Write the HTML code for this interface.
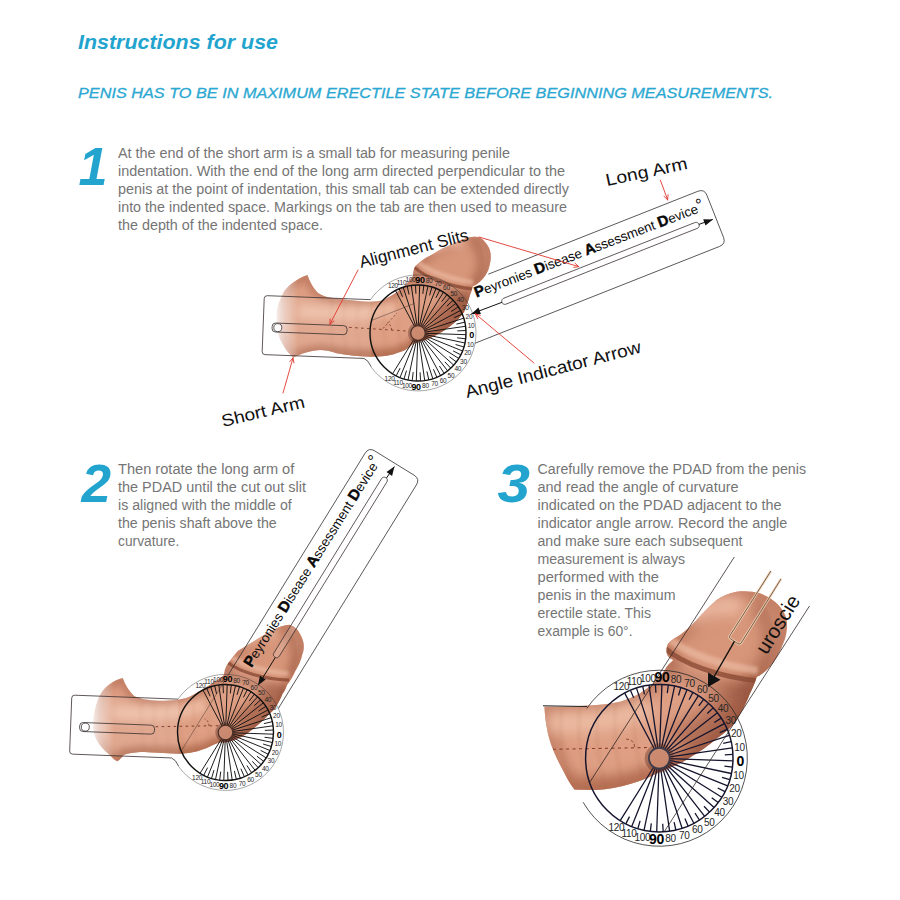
<!DOCTYPE html>
<html><head><meta charset="utf-8"><title>Instructions for use</title>
<style>
html,body{margin:0;padding:0;background:#fff;}
body{width:900px;height:900px;overflow:hidden;font-family:"Liberation Sans",sans-serif;}
svg{display:block;font-family:"Liberation Sans",sans-serif;}
</style></head><body>
<svg width="900" height="900" viewBox="0 0 900 900">
<rect width="900" height="900" fill="#ffffff"/>
<text x="78" y="48.5" font-size="20.5" fill="#23a4cf" font-weight="bold" font-style="italic" textLength="200" lengthAdjust="spacingAndGlyphs" >Instructions for use</text>
<text x="78" y="98" font-size="14.7" fill="#2ba8d2" font-weight="normal" font-style="italic" textLength="695" lengthAdjust="spacingAndGlyphs" stroke="#2ba8d2" stroke-width="0.3">PENIS HAS TO BE IN MAXIMUM ERECTILE STATE BEFORE BEGINNING MEASUREMENTS.</text>
<text x="78.5" y="185.3" font-size="53" fill="#23a4cf" font-weight="bold" font-style="italic" textLength="29" lengthAdjust="spacingAndGlyphs" >1</text>
<text x="81.5" y="501.7" font-size="53.5" fill="#23a4cf" font-weight="bold" font-style="italic" textLength="29.5" lengthAdjust="spacingAndGlyphs" >2</text>
<text x="497.5" y="502.3" font-size="53.5" fill="#23a4cf" font-weight="bold" font-style="italic" textLength="32.5" lengthAdjust="spacingAndGlyphs" >3</text>
<text x="118" y="158" font-size="14" fill="#757575" font-weight="normal" font-style="normal" textLength="392" lengthAdjust="spacingAndGlyphs" >At the end of the short arm is a small tab for measuring penile</text>
<text x="118" y="176" font-size="14" fill="#757575" font-weight="normal" font-style="normal" textLength="447" lengthAdjust="spacingAndGlyphs" >indentation. With the end of the long arm directed perpendicular to the</text>
<text x="118" y="194" font-size="14" fill="#757575" font-weight="normal" font-style="normal" textLength="451" lengthAdjust="spacingAndGlyphs" >penis at the point of indentation, this small tab can be extended directly</text>
<text x="118" y="212" font-size="14" fill="#757575" font-weight="normal" font-style="normal" textLength="449" lengthAdjust="spacingAndGlyphs" >into the indented space. Markings on the tab are then used to measure</text>
<text x="118" y="230" font-size="14" fill="#757575" font-weight="normal" font-style="normal" textLength="205" lengthAdjust="spacingAndGlyphs" >the depth of the indented space.</text>
<text x="118" y="474" font-size="14" fill="#757575" font-weight="normal" font-style="normal" textLength="176.3" lengthAdjust="spacingAndGlyphs" >Then rotate the long arm of</text>
<text x="118" y="492" font-size="14" fill="#757575" font-weight="normal" font-style="normal" textLength="188" lengthAdjust="spacingAndGlyphs" >the PDAD until the cut out slit</text>
<text x="118" y="510" font-size="14" fill="#757575" font-weight="normal" font-style="normal" textLength="173.7" lengthAdjust="spacingAndGlyphs" >is aligned with the middle of</text>
<text x="118" y="528" font-size="14" fill="#757575" font-weight="normal" font-style="normal" textLength="158.7" lengthAdjust="spacingAndGlyphs" >the penis shaft above the</text>
<text x="118" y="546" font-size="14" fill="#757575" font-weight="normal" font-style="normal" textLength="61.3" lengthAdjust="spacingAndGlyphs" >curvature.</text>
<text x="537.5" y="473.5" font-size="14" fill="#757575" font-weight="normal" font-style="normal" textLength="268.5" lengthAdjust="spacingAndGlyphs" >Carefully remove the PDAD from the penis</text>
<text x="537.5" y="491.5" font-size="14" fill="#757575" font-weight="normal" font-style="normal" textLength="201.1" lengthAdjust="spacingAndGlyphs" >and read the angle of curvature</text>
<text x="537.5" y="509.5" font-size="14" fill="#757575" font-weight="normal" font-style="normal" textLength="243.9" lengthAdjust="spacingAndGlyphs" >indicated on the PDAD adjacent to the</text>
<text x="537.5" y="527.5" font-size="14" fill="#757575" font-weight="normal" font-style="normal" textLength="249.8" lengthAdjust="spacingAndGlyphs" >indicator angle arrow. Record the angle</text>
<text x="537.5" y="545.5" font-size="14" fill="#757575" font-weight="normal" font-style="normal" textLength="205.0" lengthAdjust="spacingAndGlyphs" >and make sure each subsequent</text>
<text x="537.5" y="563.5" font-size="14" fill="#757575" font-weight="normal" font-style="normal" textLength="147.5" lengthAdjust="spacingAndGlyphs" >measurement is always</text>
<text x="537.5" y="581.5" font-size="14" fill="#757575" font-weight="normal" font-style="normal" textLength="121.5" lengthAdjust="spacingAndGlyphs" >performed with the</text>
<text x="537.5" y="599.5" font-size="14" fill="#757575" font-weight="normal" font-style="normal" textLength="138.1" lengthAdjust="spacingAndGlyphs" >penis in the maximum</text>
<text x="537.5" y="617.5" font-size="14" fill="#757575" font-weight="normal" font-style="normal" textLength="113.5" lengthAdjust="spacingAndGlyphs" >erectile state. This</text>
<text x="537.5" y="635.5" font-size="14" fill="#757575" font-weight="normal" font-style="normal" textLength="95.0" lengthAdjust="spacingAndGlyphs" >example is 60°.</text>
<defs>
<clipPath id="f1c"><path d="M283,293 C288,285 298,278 307.5,275 C309,280 313,288 318,293 C324,297 332,298 340,299 C352,300.5 362,301.5 370,301.7 C376,301.5 380,301 383.3,300 C389,297 394,294 397,292 C402,288 408,283 413,276 C413,271 414,267 416.7,265 C421,261 425,258 430,255.8 C436,252 441,249 446.7,246.7 C452,244 458,241 463.3,239.2 C467,237.5 471,236.5 475,236.7 C479,237 481.5,238 483.3,240 C486,243 488,245.5 489.2,248.3 C490.5,251.5 491,255 490.8,258.3 C490.5,262 489.5,266.5 488.3,270 C486.5,274 484.5,277 481.7,280 C479,283 476,284.8 472.5,286.5 C472,290 471,293 470,295 C468.5,300 466.5,306 464,312 C462.5,314 461.5,315.5 460,317 C458,319.5 456,321.5 454,323 C451,325.5 448.5,327.5 446,329 C443.5,331 441,332.5 438,334 C435,335.8 432.5,337 430,338 C426.5,339.5 423.5,340.3 420,341 C417.5,342 415,343 413,344 C411,345.5 409.5,347 408,348 C405.5,350 403,351.2 400,352 C396,353.5 391.5,355 386.7,355.8 C380,356.5 375,356.7 370,356.7 C364,356.5 358,356 353.3,355.8 C347,355 341,354 336.7,353.3 C330,351 325,350 320,350 C313,350.5 308,352 303.3,353.3 C299,355 296,356.5 293.3,357.5 C289,354 285,349 282,343 C279,338 278,334 278,330 C277,324 276.5,318 276.7,313 C277.5,307 278.5,303 280,300 Z"/></clipPath>
<filter id="f1b" filterUnits="userSpaceOnUse" x="0" y="0" width="900" height="900"><feGaussianBlur stdDeviation="4.5"/></filter>
<filter id="f1r" filterUnits="userSpaceOnUse" x="0" y="0" width="900" height="900"><feGaussianBlur stdDeviation="1.8"/></filter>
<filter id="f1s" filterUnits="userSpaceOnUse" x="0" y="0" width="900" height="900"><feGaussianBlur stdDeviation="0.7"/></filter>
<linearGradient id="f1g" gradientUnits="userSpaceOnUse" x1="273" y1="0" x2="298" y2="0"><stop offset="0" stop-color="#fff" stop-opacity="0"/><stop offset="0.5" stop-color="#fff" stop-opacity="0.55"/><stop offset="1" stop-color="#fff" stop-opacity="1"/></linearGradient>
<mask id="f1m" maskUnits="userSpaceOnUse" x="0" y="0" width="900" height="900"><rect x="0" y="0" width="900" height="900" fill="url(#f1g)"/></mask>
</defs>
<g mask="url(#f1m)"><g filter="url(#f1s)">
<path d="M283,293 C288,285 298,278 307.5,275 C309,280 313,288 318,293 C324,297 332,298 340,299 C352,300.5 362,301.5 370,301.7 C376,301.5 380,301 383.3,300 C389,297 394,294 397,292 C402,288 408,283 413,276 C413,271 414,267 416.7,265 C421,261 425,258 430,255.8 C436,252 441,249 446.7,246.7 C452,244 458,241 463.3,239.2 C467,237.5 471,236.5 475,236.7 C479,237 481.5,238 483.3,240 C486,243 488,245.5 489.2,248.3 C490.5,251.5 491,255 490.8,258.3 C490.5,262 489.5,266.5 488.3,270 C486.5,274 484.5,277 481.7,280 C479,283 476,284.8 472.5,286.5 C472,290 471,293 470,295 C468.5,300 466.5,306 464,312 C462.5,314 461.5,315.5 460,317 C458,319.5 456,321.5 454,323 C451,325.5 448.5,327.5 446,329 C443.5,331 441,332.5 438,334 C435,335.8 432.5,337 430,338 C426.5,339.5 423.5,340.3 420,341 C417.5,342 415,343 413,344 C411,345.5 409.5,347 408,348 C405.5,350 403,351.2 400,352 C396,353.5 391.5,355 386.7,355.8 C380,356.5 375,356.7 370,356.7 C364,356.5 358,356 353.3,355.8 C347,355 341,354 336.7,353.3 C330,351 325,350 320,350 C313,350.5 308,352 303.3,353.3 C299,355 296,356.5 293.3,357.5 C289,354 285,349 282,343 C279,338 278,334 278,330 C277,324 276.5,318 276.7,313 C277.5,307 278.5,303 280,300 Z" fill="#de9f84"/>
<g clip-path="url(#f1c)">
<path d="M283,293 C288,285 298,278 307.5,275 C309,280 313,288 318,293 C324,297 332,298 340,299 C352,300.5 362,301.5 370,301.7 C376,301.5 380,301 383.3,300 C389,297 394,294 397,292 C402,288 408,283 413,276 C413,271 414,267 416.7,265 C421,261 425,258 430,255.8 C436,252 441,249 446.7,246.7 C452,244 458,241 463.3,239.2 C467,237.5 471,236.5 475,236.7 C479,237 481.5,238 483.3,240 C486,243 488,245.5 489.2,248.3 C490.5,251.5 491,255 490.8,258.3 C490.5,262 489.5,266.5 488.3,270 C486.5,274 484.5,277 481.7,280 C479,283 476,284.8 472.5,286.5 C472,290 471,293 470,295 C468.5,300 466.5,306 464,312 C462.5,314 461.5,315.5 460,317 C458,319.5 456,321.5 454,323 C451,325.5 448.5,327.5 446,329 C443.5,331 441,332.5 438,334 C435,335.8 432.5,337 430,338 C426.5,339.5 423.5,340.3 420,341 C417.5,342 415,343 413,344 C411,345.5 409.5,347 408,348 C405.5,350 403,351.2 400,352 C396,353.5 391.5,355 386.7,355.8 C380,356.5 375,356.7 370,356.7 C364,356.5 358,356 353.3,355.8 C347,355 341,354 336.7,353.3 C330,351 325,350 320,350 C313,350.5 308,352 303.3,353.3 C299,355 296,356.5 293.3,357.5 C289,354 285,349 282,343 C279,338 278,334 278,330 C277,324 276.5,318 276.7,313 C277.5,307 278.5,303 280,300 Z" fill="none" stroke="#b06a4e" stroke-opacity="0.7" stroke-width="9" filter="url(#f1b)"/>
<path d="M300,357 C330,351 360,361 398,355 C426,346 452,330 467,300" fill="none" stroke="#b06a4e" stroke-width="13" stroke-opacity="0.8" filter="url(#f1b)"/>
<path d="M414,346 C440,340 458,322 468,298" fill="none" stroke="#8a4a35" stroke-width="14" stroke-opacity="0.6" filter="url(#f1b)"/>
<path d="M424,326 C440,318 450,308 458,294" fill="none" stroke="#b06a4e" stroke-width="18" stroke-opacity="0.55" filter="url(#f1b)"/>
<path d="M432,322 C446,314 455,304 462,290" fill="none" stroke="#8a4a35" stroke-width="12" stroke-opacity="0.4" filter="url(#f1b)"/>
<path d="M298,311 C330,313 370,317 395,307" fill="none" stroke="#efbfa7" stroke-width="14" stroke-opacity="0.85" filter="url(#f1b)"/>
<path d="M332,300 C330,318 331,338 334,353" fill="none" stroke="#8a4a35" stroke-opacity="0.13" stroke-width="1.2" filter="url(#f1r)"/><path d="M345,300 C343,320 344,340 347,355" fill="none" stroke="#8a4a35" stroke-opacity="0.13" stroke-width="1.2" filter="url(#f1r)"/><path d="M358,301 C356,320 357,340 360,356" fill="none" stroke="#8a4a35" stroke-opacity="0.13" stroke-width="1.2" filter="url(#f1r)"/><path d="M371,302 C369,320 370,340 373,356" fill="none" stroke="#8a4a35" stroke-opacity="0.13" stroke-width="1.2" filter="url(#f1r)"/><path d="M384,300 C383,320 384,340 387,356" fill="none" stroke="#8a4a35" stroke-opacity="0.13" stroke-width="1.2" filter="url(#f1r)"/><path d="M397,293 C397,315 399,338 402,354" fill="none" stroke="#8a4a35" stroke-opacity="0.13" stroke-width="1.2" filter="url(#f1r)"/>
<path d="M413.5,265.9 C418.1,246.5 438.8,228.1 462.9,231.7 C486.3,237.6 488.4,263.6 475.3,287.8 C454.0,287.0 431.6,278.3 413.5,265.9Z" fill="#c78262" fill-opacity="0.30"/>
<path d="M472.4,241.2 C485.5,253.2 483.3,271.4 473.9,284.1" fill="none" stroke="#8a4a35" stroke-width="9.0" stroke-opacity="0.45" filter="url(#f1b)"/>
<path d="M430.1,248.6 C443.0,240.3 454.2,238.9 463.9,242.2" fill="none" stroke="#efbfa7" stroke-width="12.0" stroke-opacity="0.9" filter="url(#f1b)"/>
<path d="M417.9,262.3 C427.8,270.7 450.2,279.4 473.2,282.6" fill="none" stroke="#efbfa7" stroke-width="5.0" stroke-opacity="0.6" filter="url(#f1r)"/>
<path d="M414.3,267.4 C425.5,277.5 447.9,286.2 473.6,289.1" fill="none" stroke="#8a4a35" stroke-width="3.2" stroke-opacity="0.8" filter="url(#f1s)"/>
<path d="M412.6,274.5 C422.8,285.5 445.3,294.2 470.0,296.1" fill="none" stroke="#8a4a35" stroke-width="7.0" stroke-opacity="0.4" filter="url(#f1b)"/>
</g></g></g>
<g>
<g transform="translate(418,333) rotate(2.2)"><path d="M-48.7,-31.5L-152,-31.5Q-155,-31.5 -155,-28.5L-155,24.5Q-155,27.5 -152,27.5L-53,27.5Q-48.5,29 -45.5,35.5" fill="rgba(255,255,255,0.10)" stroke="#3a3030" stroke-width="0.8"/><rect x="-146" y="-4.5" width="75" height="9" rx="3.5" fill="none" stroke="#3a3030" stroke-width="0.8"/><circle cx="-140.3" cy="0" r="4" fill="#fff" fill-opacity="0.85" stroke="#3a3030" stroke-width="0.8"/><line x1="-69" y1="-3" x2="-9" y2="-1.5" stroke="#7a3526" stroke-width="0.9" stroke-dasharray="2.5 3.5"/></g>
<path d="M370.5,299.6A58,58 0 1 1 371.0,366.9" fill="none" stroke="#222" stroke-opacity="0.6" stroke-width="0.66"/>
<path d="M414.1,339.2L392.6,373.7M415.3,339.8L400.0,377.5M416.5,340.1L408.0,380.0M417.7,340.3L416.3,381.0M419.0,340.2L424.7,380.5M420.3,339.9L432.8,378.7M421.4,339.4L440.5,375.4M422.5,338.8L447.6,370.8M423.4,337.9L453.7,365.1M424.2,336.9L458.7,358.4M424.8,335.7L462.5,351.0M425.1,334.5L465.0,343.0M425.3,333.3L466.0,334.7M425.2,332.0L465.5,326.3M424.9,330.7L463.7,318.2M424.4,329.6L460.4,310.5M423.8,328.5L455.8,303.4M422.9,327.6L450.1,297.3M421.9,326.8L443.4,292.3M420.7,326.2L436.0,288.5M419.5,325.9L428.0,286.0M418.3,325.7L419.7,285.0M417.0,325.8L411.3,285.5M415.7,326.1L403.2,287.3M414.6,326.6L395.5,290.6M400.1,368.1L396.2,375.8M406.5,370.6L404.0,378.9M413.2,372.1L412.2,380.6M420.1,372.3L420.5,380.9M426.9,371.4L428.8,379.8M433.4,369.2L436.8,377.2M439.4,366.0L444.1,373.3M444.8,361.8L450.7,368.1M449.4,356.7L456.3,361.9M453.1,350.9L460.8,354.8M455.6,344.5L463.9,347.0M457.1,337.8L465.6,338.8M457.3,330.9L465.9,330.5M456.4,324.1L464.8,322.2M454.2,317.6L462.2,314.2M451.0,311.6L458.3,306.9M446.8,306.2L453.1,300.3M441.7,301.6L446.9,294.7M435.9,297.9L439.8,290.2M429.5,295.4L432.0,287.1M422.8,293.9L423.8,285.4M415.9,293.7L415.5,285.1M409.1,294.6L407.2,286.2M402.6,296.8L399.2,288.8" stroke="#111" stroke-width="0.95" fill="none"/>
<circle cx="418" cy="333" r="48" fill="none" stroke="#111" stroke-width="1.42"/>
<circle cx="418" cy="333" r="10.2" fill="#5a2e22" fill-opacity="0.38"/>
<circle cx="418" cy="333" r="7.3" fill="#cf8e72" fill-opacity="0.9" stroke="#4a3028" stroke-width="1.23"/>
<text x="389.6" y="380.7" font-size="6.5" font-weight="normal" fill="#262626" text-anchor="middle" letter-spacing="-0.3">120</text>
<text x="398.0" y="384.9" font-size="6.5" font-weight="normal" fill="#262626" text-anchor="middle" letter-spacing="-0.3">110</text>
<text x="406.9" y="387.7" font-size="6.5" font-weight="normal" fill="#262626" text-anchor="middle" letter-spacing="-0.3">100</text>
<text x="416.1" y="389.7" font-size="9" font-weight="bold" fill="#000" text-anchor="middle" letter-spacing="-0.3">90</text>
<text x="425.4" y="388.3" font-size="6.5" font-weight="normal" fill="#262626" text-anchor="middle" letter-spacing="-0.3">80</text>
<text x="434.5" y="386.2" font-size="6.5" font-weight="normal" fill="#262626" text-anchor="middle" letter-spacing="-0.3">70</text>
<text x="443.1" y="382.6" font-size="6.5" font-weight="normal" fill="#262626" text-anchor="middle" letter-spacing="-0.3">60</text>
<text x="450.9" y="377.5" font-size="6.5" font-weight="normal" fill="#262626" text-anchor="middle" letter-spacing="-0.3">50</text>
<text x="457.8" y="371.1" font-size="6.5" font-weight="normal" fill="#262626" text-anchor="middle" letter-spacing="-0.3">40</text>
<text x="463.4" y="363.7" font-size="6.5" font-weight="normal" fill="#262626" text-anchor="middle" letter-spacing="-0.3">30</text>
<text x="467.6" y="355.4" font-size="6.5" font-weight="normal" fill="#262626" text-anchor="middle" letter-spacing="-0.3">20</text>
<text x="470.3" y="346.5" font-size="6.5" font-weight="normal" fill="#262626" text-anchor="middle" letter-spacing="-0.3">10</text>
<text x="471.5" y="338.1" font-size="9" font-weight="bold" fill="#000" text-anchor="middle" letter-spacing="-0.3">0</text>
<text x="471.0" y="327.9" font-size="6.5" font-weight="normal" fill="#262626" text-anchor="middle" letter-spacing="-0.3">10</text>
<text x="468.9" y="318.8" font-size="6.5" font-weight="normal" fill="#262626" text-anchor="middle" letter-spacing="-0.3">20</text>
<text x="465.2" y="310.2" font-size="6.5" font-weight="normal" fill="#262626" text-anchor="middle" letter-spacing="-0.3">30</text>
<text x="460.2" y="302.4" font-size="6.5" font-weight="normal" fill="#262626" text-anchor="middle" letter-spacing="-0.3">40</text>
<text x="453.8" y="295.6" font-size="6.5" font-weight="normal" fill="#262626" text-anchor="middle" letter-spacing="-0.3">50</text>
<text x="446.4" y="290.0" font-size="6.5" font-weight="normal" fill="#262626" text-anchor="middle" letter-spacing="-0.3">60</text>
<text x="438.0" y="285.7" font-size="6.5" font-weight="normal" fill="#262626" text-anchor="middle" letter-spacing="-0.3">70</text>
<text x="429.1" y="283.0" font-size="6.5" font-weight="normal" fill="#262626" text-anchor="middle" letter-spacing="-0.3">80</text>
<text x="419.9" y="282.8" font-size="9" font-weight="bold" fill="#000" text-anchor="middle" letter-spacing="-0.3">90</text>
<text x="410.6" y="282.4" font-size="6.5" font-weight="normal" fill="#262626" text-anchor="middle" letter-spacing="-0.3">100</text>
<text x="401.5" y="284.5" font-size="6.5" font-weight="normal" fill="#262626" text-anchor="middle" letter-spacing="-0.3">110</text>
<text x="392.9" y="288.1" font-size="6.5" font-weight="normal" fill="#262626" text-anchor="middle" letter-spacing="-0.3">120</text>
<path d="M488.3,274.2L697.8,191.3Q704.3,188.7 706.9,195.2L723.5,237.3Q726.1,243.8 719.6,246.4L475.1,343.2" fill="none" stroke="#2e2e2e" stroke-width="0.8"/><path d="M371.7,320.4L414.8,303.3" fill="none" stroke="#3a2a24" stroke-opacity="0.7" stroke-width="0.64"/>
<path d="M503.8,298.2L694.8,222.6C698.8,221.0 701.1,226.9 697.2,228.4L506.1,304.1C502.1,305.7 499.8,299.8 503.8,298.2Z" fill="#fff" fill-opacity="0.15" stroke="#3a3030" stroke-width="0.8"/>
<path d="M471.3,313.9L502.0,302.3M698.9,224.4L712.8,219.4" stroke="#111" stroke-width="1"/>
<path d="M471.3,313.9L478.5,307.6L480.9,313.9Z" fill="#111"/>
<path d="M712.8,219.4L705.5,225.6L703.2,219.2Z" fill="#111"/>
<text transform="translate(476.5,297.5) rotate(-20.9)" font-size="13.4" font-weight="normal" fill="#0a0a0a" textLength="245" lengthAdjust="spacingAndGlyphs" ><tspan font-weight="bold" font-size="15.0" stroke="#000" stroke-width="0.45">P</tspan>eyronies <tspan font-weight="bold" font-size="15.0" stroke="#000" stroke-width="0.45">D</tspan>isease <tspan font-weight="bold" font-size="15.0" stroke="#000" stroke-width="0.45">A</tspan>ssessment <tspan font-weight="bold" font-size="15.0" stroke="#000" stroke-width="0.45">D</tspan>evice<tspan font-size="16.8" dy="-1.6">°</tspan></text>
<path d="M391.5,330 C391.5,326.5 390,324 387,322.8 M383,328.5 L397,313" stroke="#7a3526" stroke-width="0.8" stroke-dasharray="2 2" fill="none"/>
</g>
<text transform="translate(607.0,186.0) rotate(-12)" font-size="17" font-weight="normal" fill="#111" textLength="83" lengthAdjust="spacingAndGlyphs" >Long Arm</text>
<text transform="translate(361.0,268.0) rotate(-14.4)" font-size="17" font-weight="normal" fill="#111" textLength="112" lengthAdjust="spacingAndGlyphs" >Alignment Slits</text>
<text transform="translate(467.0,398.0) rotate(-14.6)" font-size="17.5" font-weight="normal" fill="#111" textLength="181" lengthAdjust="spacingAndGlyphs" >Angle Indicator Arrow</text>
<text transform="translate(223.0,427.0) rotate(-13.5)" font-size="17" font-weight="normal" fill="#111" textLength="85" lengthAdjust="spacingAndGlyphs" >Short Arm</text>
<path d="M660.4,180.2L667.6,199.8M667.6,199.8L668.1,194.8M667.6,199.8L664.0,196.3" stroke="#e2352d" stroke-width="0.9" fill="none" stroke-linecap="round"/>
<path d="M479.0,237.0L578.7,266.6M578.7,266.6L575.0,263.2M578.7,266.6L573.8,267.4" stroke="#e2352d" stroke-width="0.9" fill="none" stroke-linecap="round"/>
<path d="M358.0,270.0L330.0,324.0M330.0,324.0L334.0,321.0M330.0,324.0L330.1,319.0" stroke="#e2352d" stroke-width="0.9" fill="none" stroke-linecap="round"/>
<path d="M534.0,363.0L475.5,314.0M475.5,314.0L477.6,318.6M475.5,314.0L480.3,315.2" stroke="#e2352d" stroke-width="0.9" fill="none" stroke-linecap="round"/>
<path d="M283.0,393.0L293.0,358.0M293.0,358.0L289.7,361.7M293.0,358.0L293.9,362.9" stroke="#e2352d" stroke-width="0.9" fill="none" stroke-linecap="round"/>
<defs>
<clipPath id="f2c"><path d="M100,695 C105,686 114,680 122.7,678 C125,685 129,691 134,696 C142,700 155,701 165,700.8 L177,700 C184,699 189,697 193.3,694.7 C199,691.5 204,688.5 209.3,685.3 C215,681.5 220,678.5 224,675 C224.5,669 227,664 231,659.6 C234,655.5 236,653 238.2,650.7 C249,644 261,637 272.2,630.6 C278,627 284,625 289.5,624.8 C295,626 299.5,631 302.5,639.3 C304.5,645 304,650 302.5,653.7 C301,660 298.5,666 295.3,671 C293,676 290.5,681 287,685 C285.5,689 284,692 282.7,693.3 C280.5,699 277.5,704.5 274.4,709 C273,710.5 271.5,712 270,713.3 C267.5,716 265,718.5 262.2,721 C259.5,723.5 257,725.8 254.4,727.8 C251.5,730.3 248.5,732.5 245.6,734.4 C242.5,736.3 239.5,737.8 236.7,739 C233,740.5 230,741.5 226.7,742 C224,742.2 221.5,742.3 219,742.5 C216.5,743.3 214,744.5 212,745.6 C208.5,747.5 205,749 201,750 C197,751.3 193.5,752.3 190,752.8 C186,753.5 182,753.8 177.8,753.8 C165,753 150,752.3 140,752 C134,752.5 128,753.5 124,754.7 C121.5,757.5 119.5,760 117.3,761.3 C114.5,760 112.5,758 110.7,756 C106.5,752.5 103,749 100,745.3 C96,740 94,735 93.3,729.3 C93,723 93.5,716 94.7,710.7 C96,704.5 98,699 100,695Z"/></clipPath>
<filter id="f2b" filterUnits="userSpaceOnUse" x="0" y="0" width="900" height="900"><feGaussianBlur stdDeviation="4.5"/></filter>
<filter id="f2r" filterUnits="userSpaceOnUse" x="0" y="0" width="900" height="900"><feGaussianBlur stdDeviation="1.8"/></filter>
<filter id="f2s" filterUnits="userSpaceOnUse" x="0" y="0" width="900" height="900"><feGaussianBlur stdDeviation="0.7"/></filter>
<linearGradient id="f2g" gradientUnits="userSpaceOnUse" x1="89" y1="0" x2="114" y2="0"><stop offset="0" stop-color="#fff" stop-opacity="0"/><stop offset="0.5" stop-color="#fff" stop-opacity="0.55"/><stop offset="1" stop-color="#fff" stop-opacity="1"/></linearGradient>
<mask id="f2m" maskUnits="userSpaceOnUse" x="0" y="0" width="900" height="900"><rect x="0" y="0" width="900" height="900" fill="url(#f2g)"/></mask>
</defs>
<g mask="url(#f2m)"><g filter="url(#f2s)">
<path d="M100,695 C105,686 114,680 122.7,678 C125,685 129,691 134,696 C142,700 155,701 165,700.8 L177,700 C184,699 189,697 193.3,694.7 C199,691.5 204,688.5 209.3,685.3 C215,681.5 220,678.5 224,675 C224.5,669 227,664 231,659.6 C234,655.5 236,653 238.2,650.7 C249,644 261,637 272.2,630.6 C278,627 284,625 289.5,624.8 C295,626 299.5,631 302.5,639.3 C304.5,645 304,650 302.5,653.7 C301,660 298.5,666 295.3,671 C293,676 290.5,681 287,685 C285.5,689 284,692 282.7,693.3 C280.5,699 277.5,704.5 274.4,709 C273,710.5 271.5,712 270,713.3 C267.5,716 265,718.5 262.2,721 C259.5,723.5 257,725.8 254.4,727.8 C251.5,730.3 248.5,732.5 245.6,734.4 C242.5,736.3 239.5,737.8 236.7,739 C233,740.5 230,741.5 226.7,742 C224,742.2 221.5,742.3 219,742.5 C216.5,743.3 214,744.5 212,745.6 C208.5,747.5 205,749 201,750 C197,751.3 193.5,752.3 190,752.8 C186,753.5 182,753.8 177.8,753.8 C165,753 150,752.3 140,752 C134,752.5 128,753.5 124,754.7 C121.5,757.5 119.5,760 117.3,761.3 C114.5,760 112.5,758 110.7,756 C106.5,752.5 103,749 100,745.3 C96,740 94,735 93.3,729.3 C93,723 93.5,716 94.7,710.7 C96,704.5 98,699 100,695Z" fill="#de9f84"/>
<g clip-path="url(#f2c)">
<path d="M100,695 C105,686 114,680 122.7,678 C125,685 129,691 134,696 C142,700 155,701 165,700.8 L177,700 C184,699 189,697 193.3,694.7 C199,691.5 204,688.5 209.3,685.3 C215,681.5 220,678.5 224,675 C224.5,669 227,664 231,659.6 C234,655.5 236,653 238.2,650.7 C249,644 261,637 272.2,630.6 C278,627 284,625 289.5,624.8 C295,626 299.5,631 302.5,639.3 C304.5,645 304,650 302.5,653.7 C301,660 298.5,666 295.3,671 C293,676 290.5,681 287,685 C285.5,689 284,692 282.7,693.3 C280.5,699 277.5,704.5 274.4,709 C273,710.5 271.5,712 270,713.3 C267.5,716 265,718.5 262.2,721 C259.5,723.5 257,725.8 254.4,727.8 C251.5,730.3 248.5,732.5 245.6,734.4 C242.5,736.3 239.5,737.8 236.7,739 C233,740.5 230,741.5 226.7,742 C224,742.2 221.5,742.3 219,742.5 C216.5,743.3 214,744.5 212,745.6 C208.5,747.5 205,749 201,750 C197,751.3 193.5,752.3 190,752.8 C186,753.5 182,753.8 177.8,753.8 C165,753 150,752.3 140,752 C134,752.5 128,753.5 124,754.7 C121.5,757.5 119.5,760 117.3,761.3 C114.5,760 112.5,758 110.7,756 C106.5,752.5 103,749 100,745.3 C96,740 94,735 93.3,729.3 C93,723 93.5,716 94.7,710.7 C96,704.5 98,699 100,695Z" fill="none" stroke="#b06a4e" stroke-opacity="0.7" stroke-width="9" filter="url(#f2b)"/>
<path d="M118,757 C150,751 185,760 212,748 C245,742 276,716 289,688" fill="none" stroke="#b06a4e" stroke-width="13" stroke-opacity="0.8" filter="url(#f2b)"/>
<path d="M222,745 C256,736 278,716 288,690" fill="none" stroke="#8a4a35" stroke-width="14" stroke-opacity="0.6" filter="url(#f2b)"/>
<path d="M232,724 C250,716 262,704 272,690" fill="none" stroke="#b06a4e" stroke-width="18" stroke-opacity="0.55" filter="url(#f2b)"/>
<path d="M240,722 C256,712 268,700 277,686" fill="none" stroke="#8a4a35" stroke-width="12" stroke-opacity="0.4" filter="url(#f2b)"/>
<path d="M112,712 C140,714 180,716 205,704" fill="none" stroke="#efbfa7" stroke-width="14" stroke-opacity="0.85" filter="url(#f2b)"/>
<path d="M142,700 C140,718 141,736 144,752" fill="none" stroke="#8a4a35" stroke-opacity="0.13" stroke-width="1.2" filter="url(#f2r)"/><path d="M155,701 C153,718 154,738 157,753" fill="none" stroke="#8a4a35" stroke-opacity="0.13" stroke-width="1.2" filter="url(#f2r)"/><path d="M168,701 C166,720 167,738 170,754" fill="none" stroke="#8a4a35" stroke-opacity="0.13" stroke-width="1.2" filter="url(#f2r)"/><path d="M181,700 C179,720 180,738 183,754" fill="none" stroke="#8a4a35" stroke-opacity="0.13" stroke-width="1.2" filter="url(#f2r)"/><path d="M194,695 C193,716 194,738 197,754" fill="none" stroke="#8a4a35" stroke-opacity="0.13" stroke-width="1.2" filter="url(#f2r)"/><path d="M207,687 C207,710 209,734 212,751" fill="none" stroke="#8a4a35" stroke-opacity="0.13" stroke-width="1.2" filter="url(#f2r)"/>
<path d="M226.9,661.1 C230.0,641.1 249.6,621.0 274.2,622.9 C298.3,627.1 302.3,653.2 290.9,678.6 C269.3,679.4 246.0,672.2 226.9,661.1Z" fill="#c78262" fill-opacity="0.30"/>
<path d="M284.6,631.8 C298.7,642.9 297.7,661.5 289.2,675.0" fill="none" stroke="#8a4a35" stroke-width="9.0" stroke-opacity="0.45" filter="url(#f2b)"/>
<path d="M242.3,642.4 C254.7,633.0 265.9,630.8 276.0,633.4" fill="none" stroke="#efbfa7" stroke-width="12.0" stroke-opacity="0.9" filter="url(#f2b)"/>
<path d="M231.0,657.1 C241.6,664.8 264.9,672.0 288.4,673.6" fill="none" stroke="#efbfa7" stroke-width="5.0" stroke-opacity="0.6" filter="url(#f2r)"/>
<path d="M227.7,662.5 C239.8,671.9 263.1,679.1 289.2,680.1" fill="none" stroke="#8a4a35" stroke-width="3.2" stroke-opacity="0.8" filter="url(#f2s)"/>
<path d="M226.5,669.8 C237.7,680.2 261.0,687.3 286.1,687.4" fill="none" stroke="#8a4a35" stroke-width="7.0" stroke-opacity="0.4" filter="url(#f2b)"/>
</g></g></g>
<g>
<g transform="translate(225.5,732.5) rotate(2.2)"><path d="M-48.7,-31.5L-152,-31.5Q-155,-31.5 -155,-28.5L-155,24.5Q-155,27.5 -152,27.5L-53,27.5Q-48.5,29 -45.5,35.5" fill="rgba(255,255,255,0.10)" stroke="#3a3030" stroke-width="0.8"/><rect x="-146" y="-4.5" width="75" height="9" rx="3.5" fill="none" stroke="#3a3030" stroke-width="0.8"/><circle cx="-140.3" cy="0" r="4" fill="#fff" fill-opacity="0.85" stroke="#3a3030" stroke-width="0.8"/><line x1="-70" y1="-3.1" x2="-8" y2="-6.5" stroke="#7a3526" stroke-width="0.9" stroke-dasharray="2.5 3.5"/></g>
<path d="M178.0,699.1A58,58 0 1 1 178.5,766.4" fill="none" stroke="#222" stroke-opacity="0.6" stroke-width="0.66"/>
<path d="M221.6,738.7L200.1,773.2M222.8,739.3L207.5,777.0M224.0,739.6L215.5,779.5M225.2,739.8L223.8,780.5M226.5,739.7L232.2,780.0M227.8,739.4L240.3,778.2M228.9,738.9L248.0,774.9M230.0,738.3L255.1,770.3M230.9,737.4L261.2,764.6M231.7,736.4L266.2,757.9M232.3,735.2L270.0,750.5M232.6,734.0L272.5,742.5M232.8,732.8L273.5,734.2M232.7,731.5L273.0,725.8M232.4,730.2L271.2,717.7M231.9,729.1L267.9,710.0M231.3,728.0L263.3,702.9M230.4,727.1L257.6,696.8M229.4,726.3L250.9,691.8M228.2,725.7L243.5,688.0M227.0,725.4L235.5,685.5M225.8,725.2L227.2,684.5M224.5,725.3L218.8,685.0M223.2,725.6L210.7,686.8M222.1,726.1L203.0,690.1M207.6,767.6L203.7,775.3M214.0,770.1L211.5,778.4M220.7,771.6L219.7,780.1M227.6,771.8L228.0,780.4M234.4,770.9L236.3,779.3M240.9,768.7L244.3,776.7M246.9,765.5L251.6,772.8M252.3,761.3L258.2,767.6M256.9,756.2L263.8,761.4M260.6,750.4L268.3,754.3M263.1,744.0L271.4,746.5M264.6,737.3L273.1,738.3M264.8,730.4L273.4,730.0M263.9,723.6L272.3,721.7M261.7,717.1L269.7,713.7M258.5,711.1L265.8,706.4M254.3,705.7L260.6,699.8M249.2,701.1L254.4,694.2M243.4,697.4L247.3,689.7M237.0,694.9L239.5,686.6M230.3,693.4L231.3,684.9M223.4,693.2L223.0,684.6M216.6,694.1L214.7,685.7M210.1,696.3L206.7,688.3" stroke="#111" stroke-width="0.95" fill="none"/>
<circle cx="225.5" cy="732.5" r="48" fill="none" stroke="#111" stroke-width="1.42"/>
<circle cx="225.5" cy="732.5" r="10.2" fill="#5a2e22" fill-opacity="0.38"/>
<circle cx="225.5" cy="732.5" r="7.3" fill="#cf8e72" fill-opacity="0.9" stroke="#4a3028" stroke-width="1.23"/>
<text x="197.1" y="780.2" font-size="6.5" font-weight="normal" fill="#262626" text-anchor="middle" letter-spacing="-0.3">120</text>
<text x="205.5" y="784.4" font-size="6.5" font-weight="normal" fill="#262626" text-anchor="middle" letter-spacing="-0.3">110</text>
<text x="214.4" y="787.2" font-size="6.5" font-weight="normal" fill="#262626" text-anchor="middle" letter-spacing="-0.3">100</text>
<text x="223.6" y="789.2" font-size="9" font-weight="bold" fill="#000" text-anchor="middle" letter-spacing="-0.3">90</text>
<text x="232.9" y="787.8" font-size="6.5" font-weight="normal" fill="#262626" text-anchor="middle" letter-spacing="-0.3">80</text>
<text x="242.0" y="785.7" font-size="6.5" font-weight="normal" fill="#262626" text-anchor="middle" letter-spacing="-0.3">70</text>
<text x="250.6" y="782.1" font-size="6.5" font-weight="normal" fill="#262626" text-anchor="middle" letter-spacing="-0.3">60</text>
<text x="258.4" y="777.0" font-size="6.5" font-weight="normal" fill="#262626" text-anchor="middle" letter-spacing="-0.3">50</text>
<text x="265.3" y="770.6" font-size="6.5" font-weight="normal" fill="#262626" text-anchor="middle" letter-spacing="-0.3">40</text>
<text x="270.9" y="763.2" font-size="6.5" font-weight="normal" fill="#262626" text-anchor="middle" letter-spacing="-0.3">30</text>
<text x="275.1" y="754.9" font-size="6.5" font-weight="normal" fill="#262626" text-anchor="middle" letter-spacing="-0.3">20</text>
<text x="277.8" y="746.0" font-size="6.5" font-weight="normal" fill="#262626" text-anchor="middle" letter-spacing="-0.3">10</text>
<text x="279.0" y="737.6" font-size="9" font-weight="bold" fill="#000" text-anchor="middle" letter-spacing="-0.3">0</text>
<text x="278.5" y="727.4" font-size="6.5" font-weight="normal" fill="#262626" text-anchor="middle" letter-spacing="-0.3">10</text>
<text x="276.4" y="718.3" font-size="6.5" font-weight="normal" fill="#262626" text-anchor="middle" letter-spacing="-0.3">20</text>
<text x="272.7" y="709.7" font-size="6.5" font-weight="normal" fill="#262626" text-anchor="middle" letter-spacing="-0.3">30</text>
<text x="267.7" y="701.9" font-size="6.5" font-weight="normal" fill="#262626" text-anchor="middle" letter-spacing="-0.3">40</text>
<text x="261.3" y="695.1" font-size="6.5" font-weight="normal" fill="#262626" text-anchor="middle" letter-spacing="-0.3">50</text>
<text x="253.9" y="689.5" font-size="6.5" font-weight="normal" fill="#262626" text-anchor="middle" letter-spacing="-0.3">60</text>
<text x="245.5" y="685.2" font-size="6.5" font-weight="normal" fill="#262626" text-anchor="middle" letter-spacing="-0.3">70</text>
<text x="236.6" y="682.5" font-size="6.5" font-weight="normal" fill="#262626" text-anchor="middle" letter-spacing="-0.3">80</text>
<text x="227.4" y="682.3" font-size="9" font-weight="bold" fill="#000" text-anchor="middle" letter-spacing="-0.3">90</text>
<text x="218.1" y="681.9" font-size="6.5" font-weight="normal" fill="#262626" text-anchor="middle" letter-spacing="-0.3">100</text>
<text x="209.0" y="684.0" font-size="6.5" font-weight="normal" fill="#262626" text-anchor="middle" letter-spacing="-0.3">110</text>
<text x="200.4" y="687.6" font-size="6.5" font-weight="normal" fill="#262626" text-anchor="middle" letter-spacing="-0.3">120</text>
<path d="M228.4,674.6L365.1,453.2Q368.8,447.2 374.7,450.9L414.1,475.2Q420.1,478.9 416.4,484.9L278.3,708.5" fill="none" stroke="#2e2e2e" stroke-width="0.8"/><path d="M181.2,751.0L228.4,674.6" fill="none" stroke="#3a2a24" stroke-opacity="0.7" stroke-width="0.64"/>
<path d="M273.9,652.9L381.5,478.7C383.7,475.1 389.1,478.4 386.8,482.1L279.3,656.2C277.0,659.8 271.7,656.5 273.9,652.9Z" fill="#fff" fill-opacity="0.15" stroke="#3a3030" stroke-width="0.8"/>
<path d="M258.1,685.3L275.3,657.5M386.4,478.1L394.4,466.6" stroke="#111" stroke-width="1"/>
<path d="M258.1,685.3L259.9,675.8L265.7,679.4Z" fill="#111"/>
<path d="M394.4,466.6L392.1,475.9L386.5,472.0Z" fill="#111"/>
<text transform="translate(251.5,668.0) rotate(-57.9)" font-size="13.4" font-weight="normal" fill="#0a0a0a" textLength="245" lengthAdjust="spacingAndGlyphs" ><tspan font-weight="bold" font-size="15.0" stroke="#000" stroke-width="0.45">P</tspan>eyronies <tspan font-weight="bold" font-size="15.0" stroke="#000" stroke-width="0.45">D</tspan>isease <tspan font-weight="bold" font-size="15.0" stroke="#000" stroke-width="0.45">A</tspan>ssessment <tspan font-weight="bold" font-size="15.0" stroke="#000" stroke-width="0.45">D</tspan>evice<tspan font-size="16.8" dy="-1.6">°</tspan></text>
<path d="M209,726 C209,722.5 207.5,720 204.5,718.8" stroke="#7a3526" stroke-width="0.8" stroke-dasharray="2 2" fill="none"/>
</g>
<defs>
<clipPath id="f3c"><path d="M544.4,706.7 L563.3,706.7 C575,706.3 586,705.8 596.7,705 C605,704.3 613,703.2 620,701.7 C627,699.5 634,696.8 640,693.3 C646,689.5 652,685 656.7,680 C661,675.5 664.5,671 666.7,666.7 C669,664 671.5,662 673.3,660 C669.5,658.5 667.2,656 666.7,653.3 C666.2,649.5 666.8,646 668.3,643.3 C671.5,640 675.5,637.5 680,635 C686,630.5 691.5,625.5 696.7,620 C703,613 709.5,606 716.7,600 C723,595.5 729.5,593 736.7,591.7 C745,590.8 753,591.3 760,593.3 C767,596 772.5,599.5 776.7,603.3 C782,608.5 785.5,614 786.7,620 C787.5,628 786.5,636 783.3,643.3 C780,652 775.5,660 770,666.7 C766,671 761.5,674.5 756.7,676.7 C755,682.5 752.7,688 750,693.3 C746.5,702.5 742,711.5 736.7,720 C732,727 724.5,733 716,739 C709,745 699.5,752 690,757.5 C681.5,763 672.5,767 663,770.5 C655,774.5 643,780.5 630,784 C619,787 607.5,789.5 596.7,790 L574.4,789.5 C570,783.5 566.5,777.5 563.3,771 C560,765 557,759 554.4,753 C551.5,746.5 549.5,740 547.8,733 C546,724 544.8,715 544.4,706.7Z"/></clipPath>
<filter id="f3b" filterUnits="userSpaceOnUse" x="0" y="0" width="900" height="900"><feGaussianBlur stdDeviation="7"/></filter>
<filter id="f3r" filterUnits="userSpaceOnUse" x="0" y="0" width="900" height="900"><feGaussianBlur stdDeviation="1.8"/></filter>
<filter id="f3s" filterUnits="userSpaceOnUse" x="0" y="0" width="900" height="900"><feGaussianBlur stdDeviation="0.7"/></filter>
</defs>
<g><g filter="url(#f3s)">
<path d="M544.4,706.7 L563.3,706.7 C575,706.3 586,705.8 596.7,705 C605,704.3 613,703.2 620,701.7 C627,699.5 634,696.8 640,693.3 C646,689.5 652,685 656.7,680 C661,675.5 664.5,671 666.7,666.7 C669,664 671.5,662 673.3,660 C669.5,658.5 667.2,656 666.7,653.3 C666.2,649.5 666.8,646 668.3,643.3 C671.5,640 675.5,637.5 680,635 C686,630.5 691.5,625.5 696.7,620 C703,613 709.5,606 716.7,600 C723,595.5 729.5,593 736.7,591.7 C745,590.8 753,591.3 760,593.3 C767,596 772.5,599.5 776.7,603.3 C782,608.5 785.5,614 786.7,620 C787.5,628 786.5,636 783.3,643.3 C780,652 775.5,660 770,666.7 C766,671 761.5,674.5 756.7,676.7 C755,682.5 752.7,688 750,693.3 C746.5,702.5 742,711.5 736.7,720 C732,727 724.5,733 716,739 C709,745 699.5,752 690,757.5 C681.5,763 672.5,767 663,770.5 C655,774.5 643,780.5 630,784 C619,787 607.5,789.5 596.7,790 L574.4,789.5 C570,783.5 566.5,777.5 563.3,771 C560,765 557,759 554.4,753 C551.5,746.5 549.5,740 547.8,733 C546,724 544.8,715 544.4,706.7Z" fill="#de9f84"/>
<g clip-path="url(#f3c)">
<path d="M544.4,706.7 L563.3,706.7 C575,706.3 586,705.8 596.7,705 C605,704.3 613,703.2 620,701.7 C627,699.5 634,696.8 640,693.3 C646,689.5 652,685 656.7,680 C661,675.5 664.5,671 666.7,666.7 C669,664 671.5,662 673.3,660 C669.5,658.5 667.2,656 666.7,653.3 C666.2,649.5 666.8,646 668.3,643.3 C671.5,640 675.5,637.5 680,635 C686,630.5 691.5,625.5 696.7,620 C703,613 709.5,606 716.7,600 C723,595.5 729.5,593 736.7,591.7 C745,590.8 753,591.3 760,593.3 C767,596 772.5,599.5 776.7,603.3 C782,608.5 785.5,614 786.7,620 C787.5,628 786.5,636 783.3,643.3 C780,652 775.5,660 770,666.7 C766,671 761.5,674.5 756.7,676.7 C755,682.5 752.7,688 750,693.3 C746.5,702.5 742,711.5 736.7,720 C732,727 724.5,733 716,739 C709,745 699.5,752 690,757.5 C681.5,763 672.5,767 663,770.5 C655,774.5 643,780.5 630,784 C619,787 607.5,789.5 596.7,790 L574.4,789.5 C570,783.5 566.5,777.5 563.3,771 C560,765 557,759 554.4,753 C551.5,746.5 549.5,740 547.8,733 C546,724 544.8,715 544.4,706.7Z" fill="none" stroke="#b06a4e" stroke-opacity="0.7" stroke-width="14" filter="url(#f3b)"/>
<path d="M546,786 C600,797 650,788 700,757 C738,730 752,702 763,674" fill="none" stroke="#b06a4e" stroke-width="24" stroke-opacity="0.85" filter="url(#f3b)"/>
<path d="M680,770 C720,748 746,716 762,678" fill="none" stroke="#8a4a35" stroke-width="22" stroke-opacity="0.6" filter="url(#f3b)"/>
<path d="M668,740 C700,728 722,706 738,682" fill="none" stroke="#b06a4e" stroke-width="28" stroke-opacity="0.55" filter="url(#f3b)"/>
<path d="M684,742 C710,728 732,706 748,680" fill="none" stroke="#8a4a35" stroke-width="18" stroke-opacity="0.4" filter="url(#f3b)"/>
<path d="M546,722 C580,722 620,722 650,706" fill="none" stroke="#efbfa7" stroke-width="22" stroke-opacity="0.85" filter="url(#f3b)"/>
<path d="M562,707 C559,730 562,756 570,780" fill="none" stroke="#8a4a35" stroke-opacity="0.14" stroke-width="1.8" filter="url(#f3r)"/><path d="M580,706 C577,732 580,760 588,789" fill="none" stroke="#8a4a35" stroke-opacity="0.14" stroke-width="1.8" filter="url(#f3r)"/><path d="M598,705 C595,732 598,762 606,790" fill="none" stroke="#8a4a35" stroke-opacity="0.14" stroke-width="1.8" filter="url(#f3r)"/><path d="M616,703 C613,730 616,760 624,787" fill="none" stroke="#8a4a35" stroke-opacity="0.14" stroke-width="1.8" filter="url(#f3r)"/><path d="M634,697 C632,726 636,756 644,781" fill="none" stroke="#8a4a35" stroke-opacity="0.14" stroke-width="1.8" filter="url(#f3r)"/>
<path d="M663.6,645.8 C670.3,615.2 702.4,585.8 740.4,590.9 C777.2,599.6 781.1,640.4 761.1,678.6 C727.6,678.0 692.2,664.8 663.6,645.8Z" fill="#c78262" fill-opacity="0.30"/>
<path d="M755.5,605.6 C776.4,624.1 773.2,652.8 758.9,673.0" fill="none" stroke="#8a4a35" stroke-width="14.0" stroke-opacity="0.45" filter="url(#f3b)"/>
<path d="M689.1,618.2 C709.2,604.8 726.8,602.4 742.1,607.3" fill="none" stroke="#efbfa7" stroke-width="18.6" stroke-opacity="0.9" filter="url(#f3b)"/>
<path d="M670.4,640.0 C686.1,652.9 721.5,666.1 757.7,670.6" fill="none" stroke="#efbfa7" stroke-width="7.8" stroke-opacity="0.6" filter="url(#f3r)"/>
<path d="M664.8,648.1 C682.6,663.7 718.1,676.9 758.4,680.8" fill="none" stroke="#8a4a35" stroke-width="5.0" stroke-opacity="0.8" filter="url(#f3s)"/>
<path d="M662.3,659.2 C678.7,676.3 714.1,689.5 752.9,691.9" fill="none" stroke="#8a4a35" stroke-width="10.8" stroke-opacity="0.4" filter="url(#f3b)"/>
</g></g></g>
<g>
<path d="M543,705.8L587,706.5" stroke="#222" stroke-width="1" fill="none"/>
<path d="M553,749.3L649,747.5" stroke="#8a3f2c" stroke-width="1.1" stroke-dasharray="3 3.5" fill="none"/>
<path d="M634.5,747 C634.5,742.5 632,739.5 626,739" stroke="#8a3f2c" stroke-width="0.9" stroke-dasharray="3 2" fill="none"/>
<path d="M586.8,708.4A88,88 0 1 1 583.1,802.2" fill="none" stroke="#222" stroke-opacity="0.85" stroke-width="0.91"/>
<path d="M653.8,767.0L620.2,820.7M655.4,767.8L631.7,826.5M657.1,768.4L644.0,830.3M658.9,768.6L656.7,831.9M660.7,768.5L669.6,831.2M662.5,768.1L682.1,828.3M664.2,767.4L693.9,823.3M665.7,766.4L704.7,816.3M667.0,765.2L714.1,807.5M668.1,763.7L721.8,797.3M668.9,762.1L727.6,785.8M669.5,760.4L731.4,773.5M669.7,758.6L733.0,760.8M669.6,756.8L732.3,747.9M669.2,755.0L729.4,735.4M668.5,753.3L724.4,723.6M667.5,751.8L717.4,712.8M666.3,750.5L708.6,703.4M664.8,749.4L698.4,695.7M663.2,748.6L686.9,689.9M661.5,748.0L674.6,686.1M659.7,747.8L661.9,684.5M657.9,747.9L649.0,685.2M656.1,748.3L636.5,688.1M654.4,749.0L624.7,693.1M629.5,816.6L625.8,823.9M640.1,820.9L637.8,828.7M651.3,823.3L650.3,831.4M662.7,823.7L663.2,831.8M674.1,822.1L675.9,830.0M684.9,818.6L688.1,826.0M695.0,813.2L699.4,820.0M704.0,806.2L709.6,812.1M711.7,797.7L718.2,802.6M717.7,788.0L725.0,791.7M722.0,777.4L729.8,779.7M724.4,766.2L732.5,767.2M724.8,754.8L732.9,754.3M723.2,743.4L731.1,741.6M719.7,732.6L727.1,729.4M714.3,722.5L721.1,718.1M707.3,713.5L713.2,707.9M698.8,705.8L703.7,699.3M689.1,699.8L692.8,692.5M678.5,695.5L680.8,687.7M667.3,693.1L668.3,685.0M655.9,692.7L655.4,684.6M644.5,694.3L642.7,686.4M633.7,697.8L630.5,690.4" stroke="#15152e" stroke-width="1.30" fill="none"/>
<circle cx="659.3" cy="758.2" r="73.7" fill="none" stroke="#15152e" stroke-width="1.49"/>
<circle cx="659.3" cy="758.2" r="14.6" fill="#5a2e22" fill-opacity="0.38"/>
<circle cx="659.3" cy="758.2" r="10.4" fill="#cf8e72" fill-opacity="0.9" stroke="#3a3a4a" stroke-width="1.69"/>
<text x="616.4" y="830.5" font-size="10" font-weight="normal" fill="#262626" text-anchor="middle" letter-spacing="-0.3">120</text>
<text x="629.0" y="836.9" font-size="10" font-weight="normal" fill="#262626" text-anchor="middle" letter-spacing="-0.3">110</text>
<text x="642.5" y="841.0" font-size="10" font-weight="normal" fill="#262626" text-anchor="middle" letter-spacing="-0.3">100</text>
<text x="656.5" y="844.2" font-size="14" font-weight="bold" fill="#000" text-anchor="middle" letter-spacing="-0.3">90</text>
<text x="670.6" y="842.0" font-size="10" font-weight="normal" fill="#262626" text-anchor="middle" letter-spacing="-0.3">80</text>
<text x="684.3" y="838.8" font-size="10" font-weight="normal" fill="#262626" text-anchor="middle" letter-spacing="-0.3">70</text>
<text x="697.3" y="833.3" font-size="10" font-weight="normal" fill="#262626" text-anchor="middle" letter-spacing="-0.3">60</text>
<text x="709.2" y="825.6" font-size="10" font-weight="normal" fill="#262626" text-anchor="middle" letter-spacing="-0.3">50</text>
<text x="719.5" y="816.0" font-size="10" font-weight="normal" fill="#262626" text-anchor="middle" letter-spacing="-0.3">40</text>
<text x="728.0" y="804.7" font-size="10" font-weight="normal" fill="#262626" text-anchor="middle" letter-spacing="-0.3">30</text>
<text x="734.4" y="792.1" font-size="10" font-weight="normal" fill="#262626" text-anchor="middle" letter-spacing="-0.3">20</text>
<text x="738.5" y="778.6" font-size="10" font-weight="normal" fill="#262626" text-anchor="middle" letter-spacing="-0.3">10</text>
<text x="740.3" y="766.1" font-size="14" font-weight="bold" fill="#000" text-anchor="middle" letter-spacing="-0.3">0</text>
<text x="739.5" y="750.5" font-size="10" font-weight="normal" fill="#262626" text-anchor="middle" letter-spacing="-0.3">10</text>
<text x="736.3" y="736.8" font-size="10" font-weight="normal" fill="#262626" text-anchor="middle" letter-spacing="-0.3">20</text>
<text x="730.8" y="723.8" font-size="10" font-weight="normal" fill="#262626" text-anchor="middle" letter-spacing="-0.3">30</text>
<text x="723.1" y="711.9" font-size="10" font-weight="normal" fill="#262626" text-anchor="middle" letter-spacing="-0.3">40</text>
<text x="713.5" y="701.6" font-size="10" font-weight="normal" fill="#262626" text-anchor="middle" letter-spacing="-0.3">50</text>
<text x="702.2" y="693.1" font-size="10" font-weight="normal" fill="#262626" text-anchor="middle" letter-spacing="-0.3">60</text>
<text x="689.6" y="686.7" font-size="10" font-weight="normal" fill="#262626" text-anchor="middle" letter-spacing="-0.3">70</text>
<text x="676.1" y="682.6" font-size="10" font-weight="normal" fill="#262626" text-anchor="middle" letter-spacing="-0.3">80</text>
<text x="662.1" y="682.3" font-size="14" font-weight="bold" fill="#000" text-anchor="middle" letter-spacing="-0.3">90</text>
<text x="648.0" y="681.6" font-size="10" font-weight="normal" fill="#262626" text-anchor="middle" letter-spacing="-0.3">100</text>
<text x="634.3" y="684.8" font-size="10" font-weight="normal" fill="#262626" text-anchor="middle" letter-spacing="-0.3">110</text>
<text x="621.3" y="690.3" font-size="10" font-weight="normal" fill="#262626" text-anchor="middle" letter-spacing="-0.3">120</text>
<path d="M734.3,557L589.3,783" stroke="#2a2020" stroke-opacity="0.85" stroke-width="0.9" fill="none"/>
<path d="M809.5,606L664.7,831" stroke="#2a2020" stroke-opacity="0.85" stroke-width="0.9" fill="none"/>
<path d="M770.9,571.0L730.0,635.5Q728.6,637.6 730.6,638.8L737.9,643.7Q740.0,644.9 741.3,642.8L781.0,578.9" stroke="#f0d2b4" stroke-width="2.6" fill="none" stroke-opacity="0.85"/>
<path d="M770.9,571.0L730.0,635.5Q728.6,637.6 730.6,638.8L737.9,643.7Q740.0,644.9 741.3,642.8L781.0,578.9" stroke="#5a4030" stroke-width="0.8" fill="none"/>
<path d="M734.4,641.4L713.0,678.5" stroke="#111" stroke-width="1.4"/>
<path d="M708.0,687.0L708.1,672.6L720.5,679.8Z" fill="#111"/>
<text transform="translate(766.5,655.5) rotate(-58)" font-size="20.5" font-weight="normal" fill="#111" textLength="65" lengthAdjust="spacingAndGlyphs" >uroscie</text>
</g>
</svg>
</body></html>
